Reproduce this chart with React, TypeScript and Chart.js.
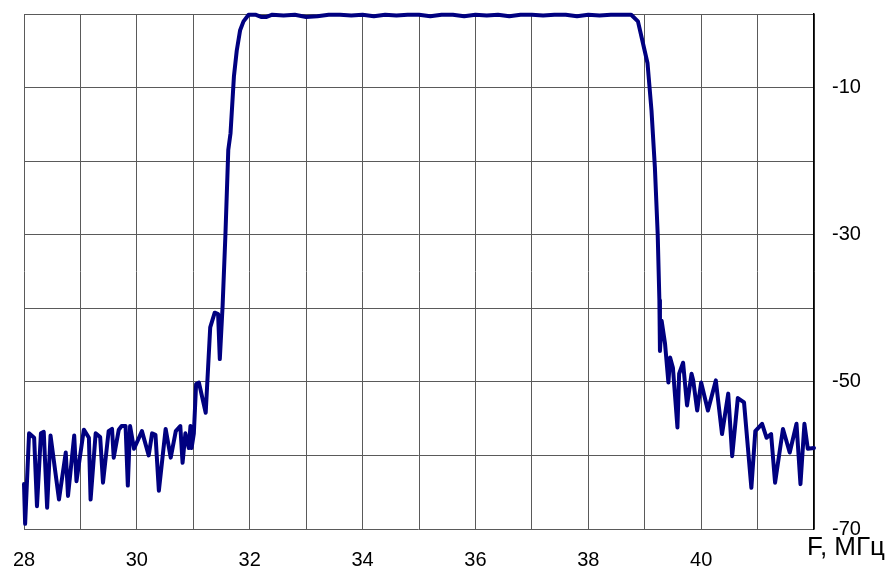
import React, { useEffect, useRef } from "react";
import { Chart, registerables } from "chart.js";

Chart.register(...registerables);

// Frequency, MHz
const freqs: number[] = [
  28.0, 28.02, 28.09, 28.18, 28.23, 28.3, 28.35, 28.41, 28.47, 28.62, 28.74, 28.78, 28.89, 28.93,
  29.06, 29.15, 29.18, 29.27, 29.35, 29.4, 29.5, 29.56, 29.59, 29.68, 29.73, 29.8, 29.84, 29.88, 29.95,
  30.09, 30.21, 30.27, 30.33, 30.39, 30.51, 30.6, 30.69, 30.77, 30.81, 30.86, 30.92, 30.95, 30.97,
  31.01, 31.05, 31.1, 31.22, 31.3, 31.38, 31.44, 31.47, 31.52, 31.57, 31.62, 31.66, 31.72, 31.77,
  31.83, 31.89, 31.98,
  32.1, 32.2, 32.3, 32.4, 32.6, 32.8, 33.0, 33.2, 33.4, 33.6, 33.8, 34.0, 34.2, 34.4, 34.6, 34.8,
  35.0, 35.2, 35.4, 35.6, 35.8, 36.0, 36.2, 36.4, 36.6, 36.8, 37.0, 37.2, 37.4, 37.6, 37.8, 38.0,
  38.2, 38.4, 38.6, 38.76,
  38.88, 38.97, 39.05, 39.12, 39.18, 39.23, 39.26, 39.27, 39.3, 39.36, 39.42, 39.45, 39.5, 39.58,
  39.61, 39.68, 39.75, 39.83, 39.86, 39.93, 40.0, 40.12, 40.26, 40.37, 40.48, 40.55, 40.65, 40.76,
  40.89, 40.96, 41.08, 41.16, 41.24, 41.31, 41.45, 41.57, 41.69, 41.76, 41.83, 41.89, 42.0,
];

// Transmission level, dB
const levels: number[] = [
  -63.9, -69.3, -57, -57.6, -66.9, -57, -56.8, -67.1, -57.3, -66, -59.6, -65.5, -57.3, -63.5,
  -56.5, -57.6, -66, -57, -57.5, -63.7, -56.7, -56.4, -60.3, -56.5, -56, -56, -64.1, -56, -59.1,
  -56.7, -60, -57, -57.2, -64.8, -56.4, -60.3, -56.7, -56, -61, -57, -59, -56, -59,
  -57, -50.3, -50.1, -54.2, -42.6, -40.6, -40.8, -46.9, -39.6, -29.9, -18.5, -16.2, -8.5, -5,
  -2.2, -1.0, -0.1,
  -0.1, -0.4, -0.4, -0.1, -0.2, -0.1, -0.4, -0.3, -0.1, -0.1, -0.2, -0.1, -0.3, -0.1, -0.2, -0.1,
  -0.1, -0.3, -0.1, -0.1, -0.3, -0.1, -0.2, -0.1, -0.3, -0.1, -0.1, -0.2, -0.1, -0.1, -0.3, -0.1,
  -0.2, -0.1, -0.1, -0.1,
  -1.0, -4.0, -6.7, -13.1, -20.8, -29.9, -38.9, -45.8, -41.7, -44.8, -50.1, -46.7, -48.1, -56.2,
  -48.9, -47.4, -53.2, -48.9, -49.8, -53.9, -50.1, -53.9, -49.8, -57.1, -51.6, -60.1, -52.2, -52.8,
  -64.4, -56.7, -55.7, -57.6, -57.1, -63.7, -56.4, -59.6, -55.7, -63.9, -55.7, -59.1, -59,
];

const xLabelValues: number[] = [28, 30, 32, 34, 36, 38, 40];
const yLabelValues: number[] = [-10, -30, -50, -70];
const axisTitle = "F, МГц";

const FONT = '"Liberation Sans", Arial, sans-serif';

export default function App() {
  const ref = useRef<HTMLCanvasElement | null>(null);

  useEffect(() => {
    if (!ref.current) return;
    const titlePlugin = {
      id: "axisTitle",
      afterDraw(chart: any) {
        const ctx = chart.ctx;
        ctx.save();
        ctx.font = `26px ${FONT}`;
        ctx.fillStyle = "#000";
        ctx.textAlign = "right";
        ctx.textBaseline = "middle";
        ctx.fillText(axisTitle, 885, 548);
        ctx.restore();
      },
    };
    const chart = new Chart(ref.current, {
      type: "line",
      data: {
        datasets: [
          {
            data: freqs.map((f, i) => ({ x: f, y: levels[i] })),
            borderColor: "#000080",
            borderWidth: 4,
            pointRadius: 0,
            tension: 0,
            borderJoinStyle: "round",
            borderCapStyle: "round",
            clip: false,
          } as any,
        ],
      },
      options: {
        responsive: false,
        animation: false,
        devicePixelRatio: 1,
        layout: { padding: { left: 24, top: 14, right: 0, bottom: 0 } },
        plugins: { legend: { display: false }, tooltip: { enabled: false } },
        scales: {
          x: {
            type: "linear",
            min: 28,
            max: 42,
            afterFit: (s: any) => {
              s.height = 40;
              s.paddingLeft = 0;
              s.paddingRight = 0;
            },
            ticks: {
              stepSize: 1,
              autoSkip: false,
              maxRotation: 0,
              padding: 19,
              color: "#000",
              font: { family: FONT, size: 20 },
              callback: (v: any) => (xLabelValues.includes(Number(v)) ? String(v) : ""),
            },
            grid: { color: "#5a5a5a", lineWidth: 1, drawTicks: false },
            border: { display: false },
          },
          y: {
            position: "right",
            min: -70,
            max: 0,
            afterFit: (s: any) => {
              s.width = 75;
              s.paddingTop = 0;
              s.paddingBottom = 0;
            },
            ticks: {
              stepSize: 10,
              padding: 18,
              color: "#000",
              font: { family: FONT, size: 20 },
              callback: (v: any) => (yLabelValues.includes(Number(v)) ? String(v) : ""),
            },
            grid: { color: "#5a5a5a", lineWidth: 1, drawTicks: false },
            border: { display: true, color: "#000", width: 1.5 },
          },
        },
      },
      plugins: [titlePlugin],
    });
    return () => chart.destroy();
  }, []);

  return (
    <div style={{ position: "absolute", left: 0, top: 0, width: 889, height: 569, background: "#fff" }}>
      <canvas ref={ref} width={889} height={569} />
    </div>
  );
}
